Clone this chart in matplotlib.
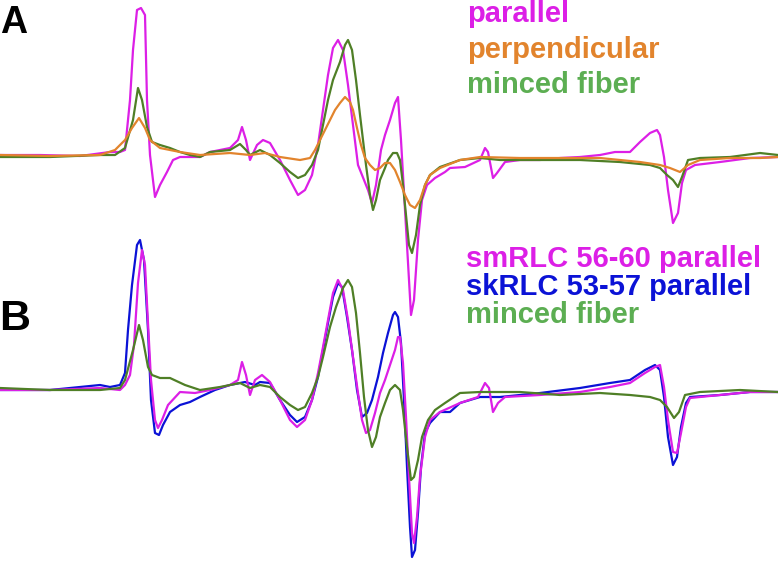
import numpy as np
import matplotlib
matplotlib.use('Agg')
import matplotlib.pyplot as plt

# field position (shared horizontal axis, arbitrary units) and signal amplitudes

# ---- panel A ----
a_par_x = [0, 40, 80, 110, 120, 125, 130, 133, 137, 141, 145, 147, 150, 155, 160, 167, 173, 180, 200, 210,
           230, 238, 242, 246, 250, 257, 263, 270, 280, 290, 298, 305, 312, 318, 323, 328, 333, 338, 343, 348,
           353, 358, 362, 368, 372, 376, 381, 385, 390, 395, 398, 401, 405, 409, 411, 414, 418, 422, 427, 435,
           445, 450, 465, 480, 485, 488, 493, 497, 505, 520, 540, 560, 580, 600, 615, 630, 640, 650, 657, 660,
           664, 668, 673, 678, 682, 686, 695, 720, 750, 778]
a_par_y = [0, 0, -1, 3, 3, 5, 55, 105, 145, 147, 140, 55, 0, -42, -30, -17, -5, -2, -2, 3,
           7, 15, 28, 15, -5, 10, 15, 12, -5, -25, -40, -35, -20, 10, 45, 80, 107, 115, 105, 70,
           30, -10, -20, -35, -48, -30, 5, 20, 35, 52, 58, 15, -55, -125, -160, -145, -85, -45, -30, -23,
           -17, -13, -12, -5, 7, 3, -23, -18, -7, -5, -5, -3, -2, 0, 3, 3, 13, 22, 25, 20,
           -2, -35, -68, -58, -28, -15, -10, -7, -3, -2]

a_min_x = [0, 50, 100, 115, 125, 133, 138, 142, 147, 152, 160, 170, 180, 190, 200, 210, 230, 240, 246, 250,
           260, 270, 280, 290, 298, 305, 312, 318, 323, 328, 333, 340, 345, 348, 352, 356, 360, 363, 366, 370,
           373, 376, 380, 385, 388, 393, 397, 400, 403, 406, 409, 412, 416, 420, 425, 430, 440, 460, 480, 500,
           540, 580, 620, 650, 660, 667, 673, 678, 682, 688, 700, 730, 760, 778]
a_min_y = [-2, -2, 0, 0, 7, 35, 67, 55, 28, 13, 10, 7, 3, 0, -2, 3, 5, 11, 5, 0,
           5, 0, -8, -17, -23, -20, -10, 5, 30, 55, 75, 93, 110, 115, 105, 75, 40, 15, -10, -40,
           -55, -45, -25, -13, -5, 2, 2, -5, -30, -60, -90, -98, -80, -50, -30, -20, -12, -5, -3, -5,
           -5, -5, -7, -10, -13, -20, -25, -32, -22, -5, -3, -2, 2, 0]

a_perp_x = [0, 50, 100, 115, 125, 132, 139, 145, 150, 160, 180, 200, 230, 250, 265, 280, 300, 310, 315, 320,
            325, 330, 335, 340, 345, 350, 353, 357, 361, 365, 370, 375, 380, 385, 390, 395, 400, 405, 410, 415,
            420, 425, 430, 440, 460, 480, 520, 560, 600, 640, 660, 670, 680, 688, 700, 730, 760, 778]
a_perp_y = [0, -1, 0, 5, 15, 27, 37, 27, 15, 7, 3, 0, 2, 0, 2, -2, -5, -3, 5, 15,
            25, 35, 45, 52, 58, 53, 45, 27, 10, -3, -10, -15, -13, -8, -8, -15, -27, -40, -50, -53,
            -45, -30, -20, -13, -5, -2, -3, -3, -3, -7, -10, -13, -17, -10, -5, -3, -3, -2]

# ---- panel B ----
b_sk_x = [0, 50, 100, 110, 120, 125, 128, 132, 137, 140, 144, 148, 151, 155, 159, 163, 170, 180, 190, 200,
          215, 230, 245, 255, 260, 270, 280, 290, 297, 305, 312, 318, 323, 328, 333, 338, 342, 347, 352, 357,
          362, 367, 372, 378, 383, 388, 393, 395, 398, 401, 404, 407, 410, 412, 415, 418, 421, 425, 430, 440,
          450, 460, 480, 500, 540, 580, 610, 630, 645, 655, 660, 664, 668, 673, 677, 681, 686, 690, 720, 750, 778]
b_sk_y = [0, 0, 5, 3, 5, 17, 60, 105, 145, 150, 130, 60, -10, -43, -45, -35, -22, -15, -12, -7,
          0, 5, 8, 5, 8, 7, -10, -25, -32, -27, -10, 13, 40, 67, 93, 107, 103, 73, 40, 0,
          -27, -23, -10, 13, 37, 57, 75, 78, 73, 47, -10, -77, -137, -167, -160, -123, -77, -43, -33, -22,
          -22, -13, -7, -7, -3, 2, 7, 10, 20, 25, 20, -7, -47, -75, -67, -37, -13, -7, -5, -2, -2]

b_sm_x = [0, 50, 100, 120, 125, 130, 134, 138, 142, 145, 148, 151, 155, 158, 162, 168, 180, 195, 210, 230,
          238, 242, 246, 250, 255, 262, 270, 280, 290, 297, 305, 312, 318, 323, 328, 333, 338, 343, 348, 353,
          358, 362, 366, 370, 375, 380, 385, 390, 395, 398, 400, 403, 406, 409, 412, 414, 417, 420, 425, 430,
          440, 460, 478, 485, 489, 493, 498, 505, 540, 580, 610, 630, 645, 655, 660, 664, 668, 673, 677, 681,
          686, 690, 720, 750, 778]
b_sm_y = [0, 0, 2, 0, 5, 15, 45, 107, 140, 125, 67, 10, -30, -38, -30, -15, -2, -3, 0, 5,
          10, 28, 15, -5, 10, 15, 8, -10, -30, -37, -30, -10, 17, 43, 70, 97, 110, 100, 70, 33,
          -3, -30, -43, -40, -23, -3, 10, 25, 40, 53, 53, 27, -27, -87, -143, -153, -127, -87, -47, -30,
          -22, -13, -7, 7, 2, -22, -13, -7, -5, -2, 3, 7, 17, 23, 25, 3, -30, -62, -63, -43,
          -17, -8, -5, -2, -2]

b_min_x = [0, 50, 100, 120, 125, 133, 139, 143, 148, 152, 160, 170, 185, 200, 220, 240, 250, 260, 270, 280,
           290, 298, 305, 312, 318, 323, 330, 336, 343, 348, 352, 356, 360, 364, 368, 372, 376, 380, 385, 390,
           395, 400, 403, 407, 411, 414, 418, 422, 428, 435, 445, 460, 480, 520, 560, 600, 630, 650, 660, 667,
           674, 679, 685, 700, 740, 778]
b_min_y = [2, 0, 0, 2, 10, 40, 65, 50, 23, 15, 12, 12, 5, 0, 3, 7, 2, 5, 3, -7,
           -15, -20, -17, -3, 13, 33, 63, 83, 102, 110, 103, 77, 37, -7, -40, -57, -47, -27, -13, 0,
           5, 0, -20, -57, -90, -87, -70, -47, -30, -20, -13, -3, -2, -2, -5, -3, -5, -7, -10, -17,
           -28, -22, -5, -2, 0, -2]

magenta = '#dc1fe6'
orange = '#e2842d'
green_line = '#4f7f26'
green_text = '#5cae52'
blue = '#0b12d6'

fig = plt.figure(figsize=(7.78, 5.61), dpi=100)
ax = fig.add_axes([0, 0, 1, 1])
ax.set_xlim(0, 778)
ax.set_ylim(561, 0)
ax.axis('off')

base_a = 155
base_b = 390
lw = 1.6

ax.plot(a_par_x, base_a - np.array(a_par_y), color=magenta, lw=lw)
ax.plot(a_min_x, base_a - np.array(a_min_y), color=green_line, lw=lw)
ax.plot(a_perp_x, base_a - np.array(a_perp_y), color=orange, lw=lw)

ax.plot(b_sk_x, base_b - np.array(b_sk_y), color=blue, lw=lw)
ax.plot(b_sm_x, base_b - np.array(b_sm_y), color=magenta, lw=lw)
ax.plot(b_min_x, base_b - np.array(b_min_y), color=green_line, lw=lw)

font = 'Liberation Sans'
ax.text(0, 33, 'A', fontsize=27, fontweight='bold', family=font, color='black', va='baseline')
ax.text(-1, 330, 'B', fontsize=31, fontweight='bold', family=font, color='black', va='baseline')

labels_a = ['parallel', 'perpendicular', 'minced fiber']
colors_a = [magenta, orange, green_text]
for i, (lab, col) in enumerate(zip(labels_a, colors_a)):
    ax.text(467, 22 + i * 35.5, lab, fontsize=21, fontweight='bold', family=font, color=col, va='baseline')

labels_b = ['smRLC 56-60 parallel', 'skRLC 53-57 parallel', 'minced fiber']
colors_b = [magenta, blue, green_text]
for i, (lab, col) in enumerate(zip(labels_b, colors_b)):
    ax.text(466, 267 + i * 28, lab, fontsize=21, fontweight='bold', family=font, color=col, va='baseline')

fig.savefig('out.png', dpi=100)
